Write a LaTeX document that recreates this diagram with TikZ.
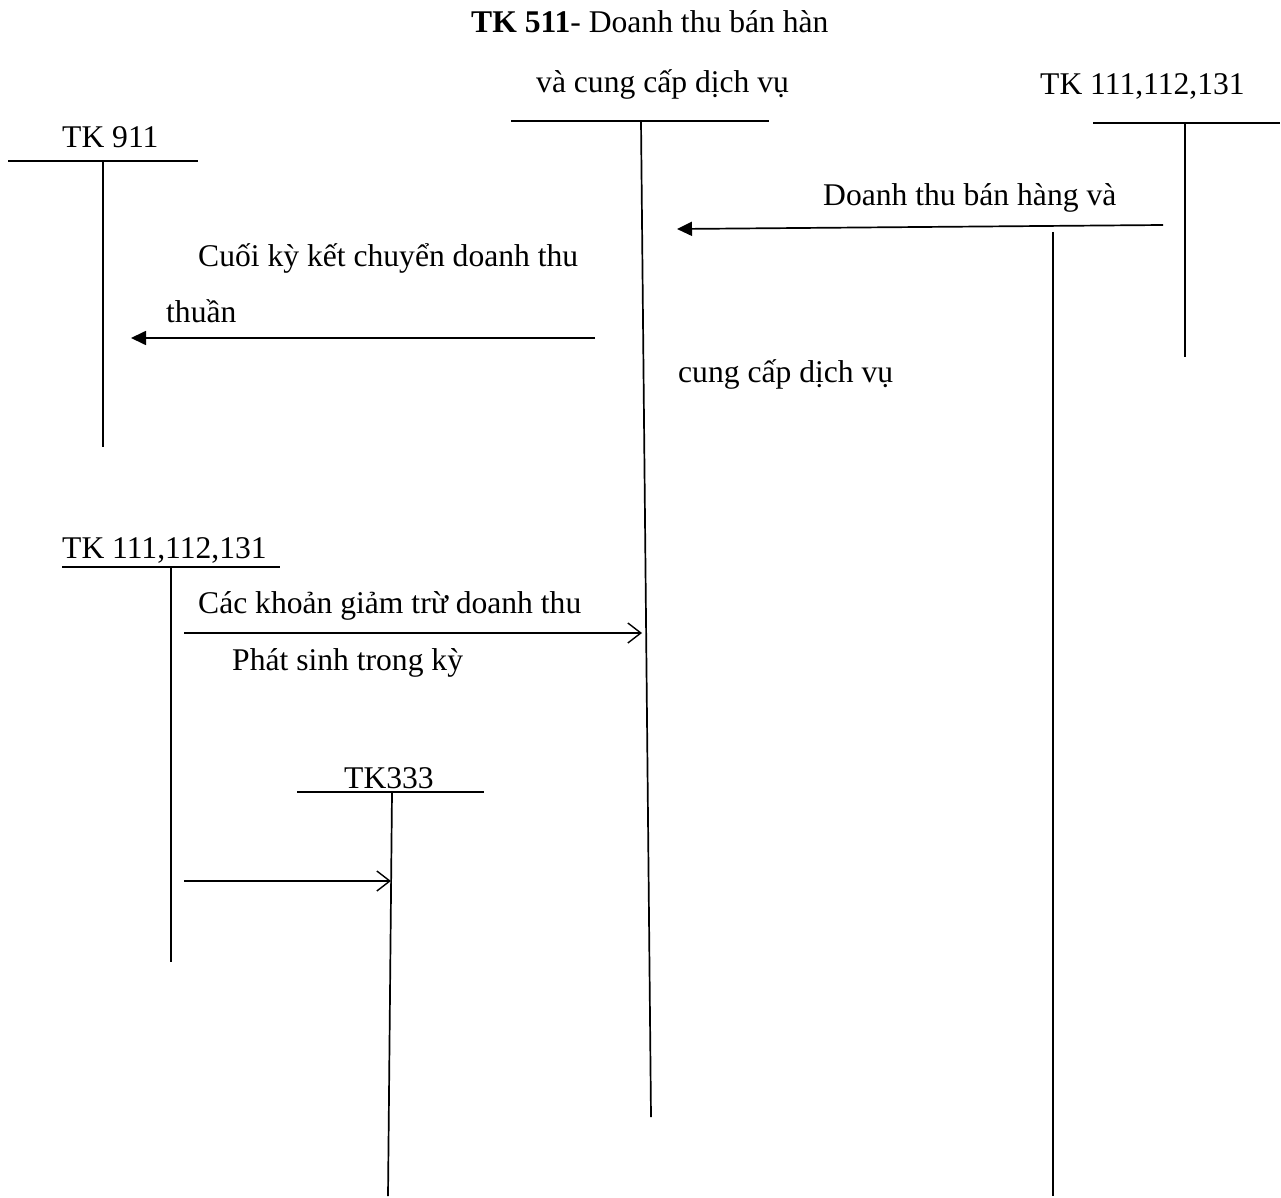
\documentclass[tikz,border=0pt]{standalone}
\usepackage{fontspec}
\setmainfont{Liberation Serif}
\usetikzlibrary{arrows.meta}
\begin{document}
\begin{tikzpicture}[x=1pt,y=-1pt,
  lbl/.style={inner sep=0pt,anchor=base west,font=\fontsize{31.6}{36}\selectfont},
  acct/.style={line width=1.7pt},
  flowfill/.style={line width=1.7pt,-{Triangle[length=15pt,width=14pt]}},
  flowopen/.style={line width=1.4pt,-{Straight Barb[length=13pt,width=20pt,line width=1.4pt]}}]
\useasboundingbox (0,0) rectangle (1281,1198);

% headings
\node[lbl] (title) at (471,33) {\textbf{TK 511}- Doanh thu bán hàn};
\node[lbl] (title2) at (536,93) {và cung cấp dịch vụ};

% TK 511 account
\coordinate (a511l) at (511,121);
\coordinate (a511r) at (769,121);
\coordinate (a511t) at (641,121);
\coordinate (a511b) at (651,1117);
\draw[acct] (a511l) -- (a511r);
\draw[acct] (a511t) -- (a511b);

% TK 911 account
\node[lbl] (t911) at (62,148) {TK 911};
\coordinate (a911l) at (8,161);
\coordinate (a911r) at (198,161);
\coordinate (a911t) at (103,161);
\coordinate (a911b) at (103,447);
\draw[acct] (a911l) -- (a911r);
\draw[acct] (a911t) -- (a911b);

% TK 111,112,131 (right)
\node[lbl] (tR) at (1040,95) {TK 111,112,131};
\coordinate (aRl) at (1093,123);
\coordinate (aRr) at (1280,123);
\coordinate (aRt) at (1185,123);
\coordinate (aRb) at (1185,357);
\draw[acct] (aRl) -- (aRr);
\draw[acct] (aRt) -- (aRb);

% revenue entry
\coordinate (revS) at (1163,225);
\coordinate (revE) at (677,229);
\draw[flowfill] (revS) -- (revE);
\node[lbl] (rev1) at (823,206) {Doanh thu bán hàng và};
\node[lbl] (rev2) at (678,382) {cung cấp dịch vụ};
\coordinate (vT) at (1053,232);
\coordinate (vB) at (1053,1196);
\draw[acct] (vT) -- (vB);

% closing entry to TK 911
\node[lbl] (close1) at (198,266) {Cuối kỳ kết chuyển doanh thu};
\node[lbl] (close2) at (166,322) {thuần};
\coordinate (clS) at (595,338);
\coordinate (clE) at (131,338);
\draw[flowfill] (clS) -- (clE);

% TK 111,112,131 (left)
\node[lbl] (tL) at (62,558) {TK 111,112,131};
\coordinate (aLl) at (62,567);
\coordinate (aLr) at (280,567);
\coordinate (aLt) at (171,567);
\coordinate (aLb) at (171,962);
\draw[acct] (aLl) -- (aLr);
\draw[acct] (aLt) -- (aLb);

% deductions
\node[lbl] (ded1) at (198,613) {Các khoản giảm trừ doanh thu};
\node[lbl] (ded2) at (232,670) {Phát sinh trong kỳ};
\coordinate (dS) at (184,633);
\coordinate (dE) at (642,633);
\draw[flowopen] (dS) -- (dE);

% TK 333 account
\node[lbl] (t333) at (344,788) {TK333};
\coordinate (a333l) at (297,792);
\coordinate (a333r) at (484,792);
\coordinate (a333t) at (392,792);
\coordinate (a333b) at (388,1196);
\draw[acct] (a333l) -- (a333r);
\draw[acct] (a333t) -- (a333b);
\coordinate (tS) at (184,881);
\coordinate (tE) at (391,881);
\draw[flowopen] (tS) -- (tE);
\end{tikzpicture}
\end{document}
